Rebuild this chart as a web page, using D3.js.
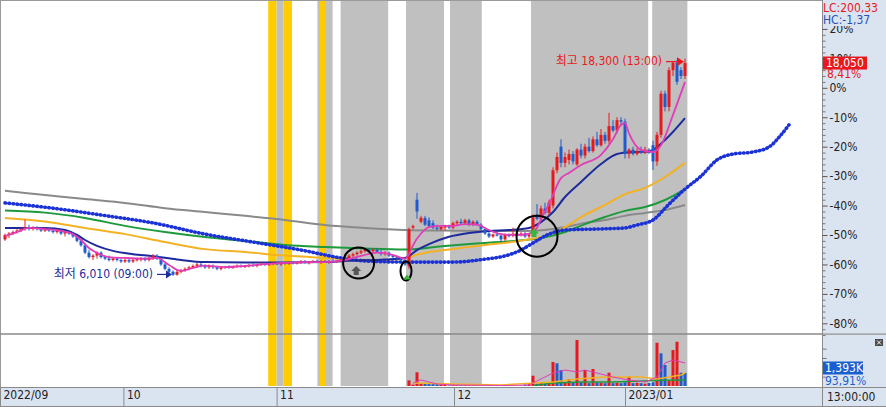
<!DOCTYPE html>
<html><head><meta charset="utf-8">
<script src="https://cdn.jsdelivr.net/npm/d3@7/dist/d3.min.js"></script>
<style>
html,body{margin:0;padding:0;background:#fff;overflow:hidden;}
svg{display:block;}
text{font-family:"Liberation Sans Narrow","DejaVu Sans Condensed","Noto Sans CJK KR",sans-serif;font-size:12px;}
</style></head><body><svg id="c" width="886" height="407"></svg>
<script>
// ---------- DATA (percent change vs. reference price) ----------
const opens = [-51.5,-50,-49.5,-49,-48.5,-48,-47.5,-48,-47.5,-48,-48.5,-48,-48.5,-49,-48.5,-49.5,-49,-49.5,-50.5,-52,-53.5,-56,-57.5,-57,-56,-57.5,-58,-58.5,-58,-58.5,-59,-58.5,-59,-58.5,-58.2,-58,-58.5,-58,-57,-58,-60,-61.5,-62.5,-63.5,-62.5,-62,-61.5,-61,-60.5,-60,-60.5,-61,-60.5,-61,-61.5,-61,-60.8,-61.2,-60.8,-60.5,-60.8,-60.5,-60.2,-60.5,-60,-59.8,-60.2,-59.8,-59.5,-60,-59.5,-59.8,-59.3,-59.7,-59.2,-59,-59.5,-59.2,-58.8,-59.2,-59,-59.3,-58.8,-59,-58.7,-58.5,-58,-57,-56.5,-56,-55.5,-55,-55.5,-55,-55.8,-56.5,-56,-57,-57.5,-58,-58.5,-60.5,-47.5,-38,-45.5,-44.2,-45,-46,-47.5,-48,-47.5,-47,-47.5,-46,-45.5,-46,-45,-46.5,-45.5,-46.5,-48,-49.5,-50.5,-49.8,-50.2,-51.5,-50,-50.3,-49.5,-50,-49.5,-50.5,-49.5,-43,-44.5,-41,-42.5,-40,-28,-20,-25.5,-24.5,-22.5,-26,-21,-23,-20,-21.5,-17.5,-19.5,-16,-18,-13,-14.5,-11,-11.5,-22.5,-21,-22.5,-21.5,-22,-21,-19.5,-25,-16,-2,-6.5,6,8.5,6,4];
const highs = [-49.5,-49,-48.5,-48,-47.5,-44.8,-46.5,-47,-47,-47.5,-47.5,-47.5,-48,-48,-48,-49,-48.5,-49,-50,-51.5,-53,-55,-56.5,-55.5,-55.5,-57,-57,-57.5,-57.5,-58,-58,-58,-58,-57.8,-57.5,-57.5,-57.5,-56.5,-56.5,-57.5,-59.5,-61,-62,-62,-61.5,-61,-60.5,-60,-59.5,-59.5,-60,-60,-60,-60.5,-60.5,-60.5,-60.3,-60.5,-60,-60,-60.2,-59.8,-59.5,-59.8,-59.2,-59.2,-59.5,-59.2,-59,-59.2,-59,-59,-58.8,-59,-58.5,-58.5,-58.8,-58.5,-58.3,-58.5,-58.5,-58.5,-58.2,-58.5,-58,-57.5,-56.5,-56,-55.5,-55,-54.5,-54.5,-54.5,-54.5,-55,-55.5,-55.5,-56.5,-57,-57.5,-58,-47.5,-46.5,-35.7,-43.5,-43.5,-44,-45,-46.5,-47,-46.5,-46.5,-45.5,-45,-44.5,-44.5,-44.5,-45,-45,-46,-47.5,-49,-49.5,-49,-49.5,-49.5,-49.5,-47.5,-49,-49,-49,-49.5,-43,-39.5,-40,-39,-38,-27,-22,-17.5,-22,-21,-21.5,-20.5,-19,-19,-17,-16.5,-15,-14,-15,-8.5,-11,-10,-10,-10.5,-20.5,-20,-20.5,-20,-20,-20.5,-18,-15,-1,-1,7,9,9.5,7,9.9];
const lows = [-52,-51,-50,-49.5,-49,-48.5,-48.5,-48.5,-48.5,-49,-49,-49,-49.5,-49.5,-50,-50.5,-50,-51,-52.5,-54,-56.5,-58,-58.5,-58,-58,-58.5,-59,-59,-59,-59.5,-59.5,-59.5,-59.5,-59,-59,-59,-59,-58.5,-58.5,-60.5,-62,-63,-63.9,-63.8,-63,-62.5,-62,-61.5,-61,-61,-61.5,-61.5,-61.5,-62,-62,-61.5,-61.5,-61.5,-61.2,-61,-61.2,-61,-60.8,-61,-60.5,-60.5,-60.5,-60.2,-60.2,-60.5,-60,-60.2,-60,-60,-59.8,-59.8,-60,-59.5,-59.5,-59.8,-59.5,-59.8,-59.3,-59.5,-59.2,-59,-58.5,-57.5,-57,-56.5,-56,-56,-56,-56,-57,-57,-57.5,-58,-58.5,-59,-60.5,-61.5,-48,-44.5,-46,-47,-47.5,-48,-48.5,-48.5,-48.5,-48,-48,-47,-46.5,-46.5,-47,-47,-47,-48.5,-50,-51,-51,-50.5,-52.5,-52,-50.8,-50.8,-50.5,-50.5,-51,-51,-50,-45,-45.5,-43,-43.5,-41,-29,-27,-27,-26,-26,-26.5,-24,-24,-22,-22,-20,-20,-19,-19,-15,-15.5,-13,-24,-24,-23,-23,-22.5,-22.5,-22.5,-27.9,-26.5,-17,-8,-8,4,1,3,3];
const closes = [-50,-49.5,-49,-48.5,-48,-47.5,-48,-47.5,-48,-48.5,-48,-48.5,-49,-48.5,-49.5,-49,-49.5,-50.5,-52,-53.5,-56,-57.5,-57,-56,-57.5,-58,-58.5,-58,-58.5,-59,-58.5,-59,-58.5,-58.2,-58,-58.5,-58,-57,-58,-60,-61.5,-62.5,-63.5,-62.5,-62,-61.5,-61,-60.5,-60,-60.5,-61,-60.5,-61,-61.5,-61,-60.8,-61.2,-60.8,-60.5,-60.8,-60.5,-60.2,-60.5,-60,-59.8,-60.2,-59.8,-59.5,-60,-59.5,-59.8,-59.3,-59.7,-59.2,-59,-59.5,-59.2,-58.8,-59.2,-59,-59.3,-58.8,-59,-58.7,-58.5,-58,-57,-56.5,-56,-55.5,-55,-55.5,-55,-55.8,-56.5,-56,-57,-57.5,-58,-58.5,-60,-48,-47,-42,-44.2,-46.5,-47,-47.5,-47.8,-47.2,-47,-47.5,-46,-45.5,-46,-45,-46.5,-45.5,-46.5,-48,-49.5,-50.5,-49.8,-50.2,-51.5,-50,-50.3,-49.5,-50,-49.5,-50.5,-49.8,-44,-44.5,-41,-42.5,-39,-28,-23.5,-25.5,-23.5,-22.5,-25,-21,-23,-20,-21.5,-17.5,-19.5,-16,-18,-13,-14.5,-11,-11.5,-22.5,-21,-22.5,-21.5,-22,-21,-22,-25,-16,-2,-6.5,6,8.5,2,4,8.4];

// moving averages, read at sample bars: [bar index, percent]
const ma5 = [[0,-50.4],[3,-49.0],[6,-47.6],[10,-48.0],[14,-48.6],[17,-49.7],[19,-51.7],[21,-54.4],[23,-56.1],[26,-57.5],[30,-57.8],[35,-58.0],[38,-57.8],[41,-60.2],[44,-62.2],[47,-61.2],[50,-60.4],[55,-60.9],[60,-60.5],[65,-59.9],[70,-59.5],[75,-59.2],[80,-59.2],[85,-58.5],[89,-57.1],[93,-56.0],[97,-56.8],[100,-58.0],[101,-56.5],[102,-53.5],[104,-49.5],[106,-47.3],[109,-46.9],[112,-46.9],[115,-46.3],[118,-46.5],[121,-48.3],[124,-49.7],[128,-50.0],[131,-49.5],[133,-47.5],[134,-44.5],[136,-39.5],[139,-30.7],[141,-28.9],[144,-26.2],[149,-22.8],[152,-17.5],[154,-12.6],[155,-12.0],[156,-15.5],[159,-21.1],[162,-21.8],[164,-19.5],[167,-9.2],[170,2.0]];
const ma20 = [[0,-47.6],[10,-47.6],[15,-48.3],[18,-50.0],[20,-51.7],[23,-53.7],[27,-55.4],[32,-56.5],[37,-57.2],[43,-58.3],[50,-59.2],[60,-59.3],[70,-59.3],[80,-59.2],[85,-58.8],[95,-58.3],[100,-57.8],[103,-55.1],[106,-53.1],[111,-50.6],[116,-49.3],[121,-48.6],[126,-48.3],[131,-47.6],[134,-45.6],[137,-42.2],[140,-37.1],[144,-32.0],[149,-25.9],[153,-22.5],[157,-21.8],[161,-21.6],[165,-17.7],[170,-10.3]];
const ma60 = [[0,-44.2],[10,-45.4],[20,-47.6],[30,-49.7],[40,-52.4],[50,-54.8],[60,-55.8],[70,-57.0],[80,-57.8],[90,-58.5],[98,-58.3],[100,-57.8],[105,-56.0],[110,-55.1],[120,-53.4],[130,-51.7],[135,-50.3],[140,-47.3],[145,-43.2],[150,-39.8],[155,-36.1],[160,-34.0],[165,-30.3],[170,-25.5]];
const ma120 = [[0,-41.7],[10,-42.4],[20,-44.2],[30,-46.9],[40,-49.0],[50,-50.7],[60,-52.0],[70,-53.4],[80,-54.1],[90,-54.6],[100,-54.9],[110,-53.7],[120,-52.7],[130,-51.7],[135,-50.8],[140,-49.0],[145,-46.3],[150,-43.9],[155,-41.8],[160,-40.5],[165,-38.1],[170,-34.4]];
const ma240 = [[0,-35.0],[10,-36.4],[20,-37.8],[30,-39.1],[40,-40.9],[50,-42.2],[60,-43.5],[70,-44.9],[80,-46.6],[90,-47.6],[100,-48.3],[110,-48.5],[120,-48.6],[130,-48.6],[135,-48.3],[140,-47.3],[145,-45.9],[150,-44.9],[155,-43.5],[160,-42.5],[165,-41.5],[170,-39.8]];
const leadLine = [[0,-39.1],[12,-40.9],[25,-43.4],[37,-45.9],[50,-49.7],[62,-52.4],[74,-55.1],[84,-57.8],[90,-58.8],[100,-59.2],[112,-59.2],[120,-58.2],[125,-57.1],[129,-55.1],[132,-52.7],[136,-49.7],[140,-48.3],[150,-47.9],[155,-47.6],[158,-46.6],[162,-44.9],[166,-39.5],[170,-34.4],[174,-30.0],[178,-24.5],[182,-22.5],[187,-21.8],[191,-20.1],[194,-16.0],[196,-12.6]];

// volume (thousand shares) from bar 100 on
const volumeFrom = 100;
const volumes = [0,600,150,1470,300,320,250,280,200,150,120,60,80,70,50,60,50,60,40,60,80,70,50,40,60,50,40,60,40,50,150,200,1100,250,300,250,300,2570,2430,1710,400,720,350,4920,400,1710,300,1820,400,350,300,1420,300,350,300,400,1000,300,350,300,250,350,400,4630,3500,2250,600,3850,4740,1420,1393];
const volumeUp = [0,1,1,1,1,0,0,0,0,1,1,0,1,1,0,1,0,1,0,0,0,0,1,0,0,1,0,1,0,1,0,1,1,0,1,0,1,1,0,0,1,1,0,1,0,1,0,1,0,1,0,1,0,1,0,0,1,0,1,0,1,0,0,1,0,0,1,1,1,0,0];
const volMa5 = [[102,320],[104,640],[106,430],[108,210],[112,110],[125,50],[131,110],[137,1390],[140,1710],[143,1500],[145,1710],[148,1390],[152,960],[156,640],[160,430],[163,960],[165,2460],[167,2780],[169,2570],[170,2460]];
const volMa20 = [[102,320],[112,210],[124,110],[137,430],[143,750],[150,960],[159,960],[163,750],[169,1180],[170,1390]];
const volMa60 = [[132,50],[137,320],[144,430],[152,430],[167,640],[170,640]];

// highlighted periods (bar index ranges) and kinds
const bandStart = [65.8,67.9,69.6,78.1,78.75,83.9,100.25,111.25,131.5,161.8];
const bandEnd   = [67.9,69.6,71.75,81.9,80.1,95.8,109.75,119.2,160.8,170.6];
const bandKind  = ["y","g","y","g","y","g","g","g","g","g"];

const yTicks = [20,10,0,-10,-20,-30,-40,-50,-60,-70,-80];
const dateTickIdx = [-1.25,29.6,67.9,112.25,155];
const dateLabels = ["2022/09","10","11","12","2023/01"];

// ---------- DRAW ----------
const W=886,H=407, PR=822, MT=1, MB=333, VT=335, VB=386, DT=387;
const RED="#e8181c", BLUE="#1f5bcc", PANEL="#dae4f1";
const svg=d3.select("#c");
const x=d3.scaleLinear().domain([0,170]).range([5,685]);
const y=d3.scaleLinear().domain([0,-10]).range([87.8,117.24]);
const vy=d3.scaleLinear().domain([0,5000]).range([VB,339.3]);

svg.append("rect").attr("width",W).attr("height",H).attr("fill","#fff");

// bands
const bandsG=svg.append("g");
bandStart.forEach((s,i)=>{
  bandsG.append("rect").attr("x",x(s)).attr("width",x(bandEnd[i])-x(s))
    .attr("y",MT).attr("height",VB-MT)
    .attr("fill",bandKind[i]==="y"?"#ffcc00":"#c0c0c0");
});

// clip
svg.append("clipPath").attr("id","pc").append("rect").attr("x",0).attr("y",MT).attr("width",PR).attr("height",MB-MT);
const plot=svg.append("g").attr("clip-path","url(#pc)");
const line=d3.line().x(d=>x(d[0])).y(d=>y(d[1])).curve(d3.curveMonotoneX);

plot.append("path").datum(ma240).attr("d",line).attr("fill","none").attr("stroke","#8a8a8a").attr("stroke-width",2);
plot.append("path").datum(ma120).attr("d",line).attr("fill","none").attr("stroke","#1e9a3c").attr("stroke-width",2);
plot.append("path").datum(ma60).attr("d",line).attr("fill","none").attr("stroke","#f2b224").attr("stroke-width",2);
plot.append("path").datum(leadLine).attr("d",line).attr("fill","none").attr("stroke","#1b32d6")
  .attr("stroke-width",3.6).attr("stroke-linecap","round").attr("stroke-dasharray","0.6 3.4");
plot.append("path").datum(ma20).attr("d",line).attr("fill","none").attr("stroke","#1c2a9c").attr("stroke-width",2);

// candles
const cg=plot.append("g");
closes.forEach((c,i)=>{
  const o=opens[i], up=c>=o, col=up?RED:BLUE, cx=x(i);
  cg.append("line").attr("x1",cx).attr("x2",cx).attr("y1",y(highs[i])).attr("y2",y(lows[i]))
    .attr("stroke",col).attr("stroke-width",1);
  const t=Math.min(y(o),y(c)), h=Math.max(1.2,Math.abs(y(o)-y(c)));
  cg.append("rect").attr("x",cx-1.5).attr("width",3).attr("y",t).attr("height",h).attr("fill",col);
});
plot.append("path").datum(ma5).attr("d",line).attr("fill","none").attr("stroke","#e23cb8").attr("stroke-width",1.8);

// annotations
const lowIdx=42, lowVal=-63.9, hiIdx=170, hiVal=9.9;
const NAVY="#1c2d9c";
plot.append("text").attr("x",x(lowIdx)-20).attr("y",y(lowVal)-1.5).attr("dominant-baseline","middle")
  .attr("text-anchor","end").attr("fill",NAVY).text("최저 6,010 (09:00)");
plot.append("line").attr("x1",x(lowIdx)-16).attr("x2",x(lowIdx)-6).attr("y1",y(lowVal)-1.5).attr("y2",y(lowVal)-1.5).attr("stroke",NAVY).attr("stroke-width",1.2);
plot.append("path").attr("d",`M${x(lowIdx)-1},${y(lowVal)-1.5} l-6,-4 l0,8 z`).attr("fill",NAVY);
plot.append("text").attr("x",x(hiIdx)-23).attr("y",y(hiVal)+3).attr("dominant-baseline","middle")
  .attr("text-anchor","end").attr("fill",RED).text("최고 18,300 (13:00)");
plot.append("line").attr("x1",x(hiIdx)-19).attr("x2",x(hiIdx)-7).attr("y1",y(hiVal)+3).attr("y2",y(hiVal)+3).attr("stroke",RED).attr("stroke-width",1.2);
plot.append("path").attr("d",`M${x(hiIdx)-1},${y(hiVal)+3} l-7,-4.5 l0,9 z`).attr("fill",RED);

plot.append("circle").attr("cx",x(88.4)).attr("cy",y(-59.5)).attr("r",15.5).attr("fill","none").attr("stroke","#000").attr("stroke-width",2);
plot.append("path").attr("d",`M${x(87.8)},${y(-60.5)} l5,5 l-2.5,0 l0,4 l-5,0 l0,-4 l-2.5,0 z`).attr("fill","#555");
plot.append("ellipse").attr("cx",x(100.25)).attr("cy",y(-62.2)).attr("rx",5.5).attr("ry",9.5).attr("fill","none").attr("stroke","#000").attr("stroke-width",2);
plot.append("path").attr("d",`M${x(100.5)},${y(-63.4)} l4,5 l-8,0 z`).attr("fill","#3cb43c");
plot.append("circle").attr("cx",x(133)).attr("cy",y(-50.4)).attr("r",20.5).attr("fill","none").attr("stroke","#000").attr("stroke-width",2);
plot.append("path").attr("d",`M${x(132.25)},${y(-47.8)} l5,5 l-2.5,0 l0,3.5 l-5,0 l0,-3.5 l-2.5,0 z`).attr("fill","#3cb43c");

// volume
svg.append("clipPath").attr("id","vc").append("rect").attr("x",0).attr("y",VT).attr("width",PR).attr("height",VB-VT);
const vg=svg.append("g").attr("clip-path","url(#vc)");
volumes.forEach((v,k)=>{
  const i=volumeFrom+k;
  if(v<=0) return;
  vg.append("rect").attr("x",x(i)-1.5).attr("width",3).attr("y",vy(v)).attr("height",VB-vy(v))
    .attr("fill",volumeUp[k]?RED:BLUE);
});
const vline=d3.line().x(d=>x(d[0])).y(d=>vy(d[1]));
vg.append("path").datum(volMa60).attr("d",vline).attr("fill","none").attr("stroke","#1e9a3c").attr("stroke-width",1.5);
vg.append("path").datum(volMa20).attr("d",vline).attr("fill","none").attr("stroke","#f2b224").attr("stroke-width",1.5);
vg.append("path").datum(volMa5).attr("d",vline).attr("fill","none").attr("stroke","#e23cb8").attr("stroke-width",1);

// frame lines
svg.append("line").attr("x1",0).attr("x2",PR).attr("y1",0.5).attr("y2",0.5).attr("stroke","#9a9a9a");
svg.append("line").attr("x1",0.5).attr("x2",0.5).attr("y1",0).attr("y2",DT).attr("stroke","#9a9a9a");
svg.append("line").attr("x1",0).attr("x2",W).attr("y1",334).attr("y2",334).attr("stroke","#8a8a8a").attr("stroke-width",1.5);

// right axis panels
svg.append("rect").attr("x",PR).attr("y",0).attr("width",W-PR).attr("height",333.3).attr("fill",PANEL);
svg.append("rect").attr("x",PR).attr("y",335).attr("width",W-PR).attr("height",DT-335).attr("fill",PANEL);
svg.append("line").attr("x1",PR+0.5).attr("x2",PR+0.5).attr("y1",0).attr("y2",H).attr("stroke","#8c8c8c");

const minorVals=d3.range(-84,30,2);
svg.append("g").attr("transform",`translate(${PR+0.5},0)`)
  .call(d3.axisRight(y).tickValues(minorVals.filter(v=>v%10!==0)).tickSize(3).tickFormat(""))
  .call(g=>g.select(".domain").remove()).selectAll("line").attr("stroke","#777");
const ax=svg.append("g").attr("transform",`translate(${PR+0.5},0)`)
  .call(d3.axisRight(y).tickValues(yTicks).tickSize(5).tickPadding(2).tickFormat(d=>d+"%"));
ax.select(".domain").remove();
ax.selectAll("line").attr("stroke","#555");
ax.selectAll("text").attr("fill","#222").style("font-size","12px").style("font-family",'"Liberation Sans Narrow","DejaVu Sans Condensed",sans-serif');

svg.append("g").attr("transform",`translate(${PR+0.5},0)`)
  .call(d3.axisRight(vy).tickValues([1000,2000,3000,4000]).tickSize(4).tickFormat(""))
  .call(g=>g.select(".domain").remove()).selectAll("line").attr("stroke","#777");

// header texts on axis (they cover the upper part of the 20% label, as in the source)
svg.append("rect").attr("x",PR+1).attr("y",0).attr("width",W-PR-1).attr("height",26).attr("fill",PANEL);
svg.append("text").attr("x",PR+1).attr("y",8).attr("dominant-baseline","middle").attr("fill",RED).text("LC:200,33");
svg.append("text").attr("x",PR+1).attr("y",20).attr("dominant-baseline","middle").attr("fill","#2a4fb8").text("HC:-1,37");
svg.append("rect").attr("x",PR+1).attr("y",y(8.41)-6.5).attr("width",44).attr("height",13).attr("fill",RED);
svg.append("text").attr("x",PR+4).attr("y",y(8.41)).attr("dominant-baseline","middle").attr("fill","#fff").text("18,050");
svg.append("text").attr("x",PR+5).attr("y",y(8.41)+11.5).attr("dominant-baseline","middle").attr("fill",RED).text("8,41%");

svg.append("rect").attr("x",PR+1).attr("y",361.5).attr("width",40).attr("height",13).attr("fill","#1a5fd0");
svg.append("text").attr("x",PR+3).attr("y",368).attr("dominant-baseline","middle").attr("fill","#fff").text("1,393K");
svg.append("text").attr("x",PR+3).attr("y",381.5).attr("dominant-baseline","middle").attr("fill","#1a5fd0").text("93,91%");
svg.append("rect").attr("x",875).attr("y",339).attr("width",8).attr("height",7).attr("fill","#4a4a4a");
svg.append("path").attr("d","M877,340.5 l4,4 M881,340.5 l-4,4").attr("stroke","#fff").attr("stroke-width",1);

// date axis
svg.append("rect").attr("x",0).attr("y",DT).attr("width",W).attr("height",H-DT).attr("fill",PANEL);
svg.append("line").attr("x1",0).attr("x2",W).attr("y1",DT+0.5).attr("y2",DT+0.5).attr("stroke","#8a8a8a");
svg.append("line").attr("x1",0).attr("x2",W).attr("y1",H-0.5).attr("y2",H-0.5).attr("stroke","#8a8a8a");
const dx=d3.scaleOrdinal().domain(dateTickIdx).range(dateLabels);
const da=svg.append("g").attr("transform",`translate(0,${DT})`)
  .call(d3.axisBottom(x).tickValues(dateTickIdx).tickSize(H-DT).tickFormat(d=>dx(d)));
da.select(".domain").remove();
da.selectAll("line").attr("stroke","#8a8a8a");
da.selectAll("text").attr("text-anchor","start").attr("dx",3).attr("y",3).attr("dy","0.71em").attr("fill","#222")
  .style("font-size","12px");
svg.append("line").attr("x1",PR+0.5).attr("x2",PR+0.5).attr("y1",DT).attr("y2",H).attr("stroke","#8a8a8a");
svg.append("text").attr("x",PR+5).attr("y",397.5).attr("dominant-baseline","middle").attr("fill","#222").text("13:00:00");
</script></body></html>
